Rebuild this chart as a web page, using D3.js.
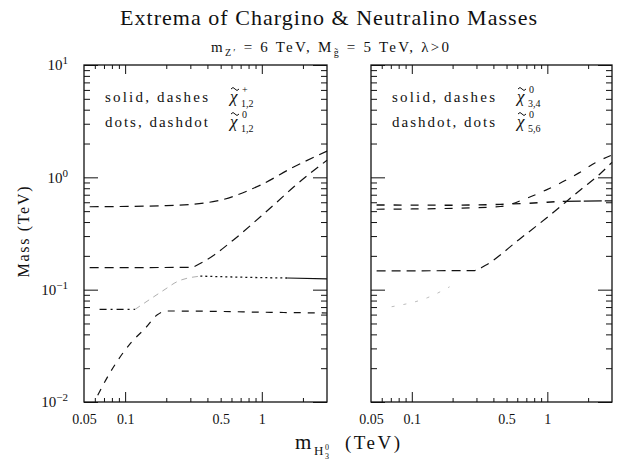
<!DOCTYPE html>
<html>
<head>
<meta charset="utf-8">
<script src="https://cdn.jsdelivr.net/npm/d3@7"></script>
<style>
  body { margin: 0; background: #fff; }
  text { font-family: "Liberation Serif", "DejaVu Serif", serif; fill: #111; }
</style>
</head>
<body>
<div id="chart"></div>
<script>
// tick values and labels
var xLabelValues = [0.05, 0.1, 0.5, 1];
var xLabelText = ["0.05", "0.1", "0.5", "1"];
var xMajor = [0.1, 1];
var xMinor = [0.06, 0.07, 0.08, 0.09, 0.2, 0.3, 0.4, 0.5, 0.6, 0.7, 0.8, 0.9, 2];
var yMajor = [0.01, 0.1, 1, 10];
var yExponent = ["\u22122", "\u22121", "0", "1"];
var yMinor = [0.02, 0.03, 0.04, 0.05, 0.06, 0.07, 0.08, 0.09,
              0.2, 0.3, 0.4, 0.5, 0.6, 0.7, 0.8, 0.9,
              2, 3, 4, 5, 6, 7, 8, 9];

// left panel: charginos and light neutralinos, [mH (TeV), mass (TeV)]
var charginoUpper = [[0.055, 0.547], [0.2, 0.56], [0.44, 0.607], [0.977, 0.853], [1.71, 1.236], [3, 1.71]];
var charginoLower = [[0.055, 0.157], [0.3, 0.158], [0.373, 0.177], [0.62, 0.277], [0.977, 0.446], [1.3, 0.607], [1.71, 0.82], [3, 1.42]];
var neutralinoFlatLeft = [[0.065, 0.0667], [0.118, 0.0667]];
var neutralinoRiseFaint = [[0.118, 0.0667], [0.196, 0.1007], [0.239, 0.1175], [0.355, 0.132]];
var neutralinoDots = [[0.355, 0.132], [1.0, 0.128], [1.53, 0.127]];
var neutralinoSolidEnd = [[1.53, 0.127], [3, 0.125]];
var neutralinoSteep = [[0.063, 0.0115], [0.077, 0.018], [0.112, 0.0344], [0.14, 0.0452], [0.171, 0.0594], [0.2, 0.0646], [0.5, 0.064], [1, 0.063], [3, 0.062]];

// right panel: heavy neutralinos
var neutralino34Rise = [[0.055, 0.147], [0.29, 0.148], [0.35, 0.165], [0.62, 0.28], [0.975, 0.43], [1.77, 0.78], [2.4, 1.05], [3, 1.36]];
var neutralinoFlatUpper = [[0.055, 0.567], [0.2, 0.565], [0.45, 0.575], [1, 0.6], [1.3, 0.612]];
var neutralinoFlatUpperEnd = [[1.3, 0.612], [3, 0.617]];
var neutralinoFlatLower = [[0.055, 0.52], [0.2, 0.53], [0.45, 0.55], [0.7, 0.65], [0.975, 0.77], [1.7, 1.09], [2.26, 1.35], [3, 1.58]];
var neutralino56Faint = [[0.071, 0.0705], [0.131, 0.085], [0.19, 0.106]];

var w = 618, h = 462;
var top_ = 65, bottom = 402;

var svg = d3.select("#chart").append("svg")
  .attr("width", w)
  .attr("height", h);

var yScale = d3.scaleLog().domain([0.01, 10]).range([bottom, top_]);

var leftCurves = [
  { d: charginoUpper, dash: "9,6", color: "#111", sw: 1.2 },
  { d: charginoLower, dash: "9,6", color: "#111", sw: 1.2 },
  { d: neutralinoFlatLeft, dash: "7,4,2,4", color: "#111", sw: 1.2 },
  { d: neutralinoRiseFaint, dash: "6,5", color: "#999", sw: 0.8 },
  { d: neutralinoDots, dash: "2,3", color: "#111", sw: 1.3 },
  { d: neutralinoSolidEnd, dash: "none", color: "#111", sw: 1.2 },
  { d: neutralinoSteep, dash: "7,7", color: "#111", sw: 1.2 }
];
var rightCurves = [
  { d: neutralino34Rise, dash: "9,6", color: "#111", sw: 1.2 },
  { d: neutralinoFlatUpper, dash: "8,9", color: "#111", sw: 1.4 },
  { d: neutralinoFlatUpperEnd, dash: "18,3", color: "#111", sw: 1.3 },
  { d: neutralinoFlatLower, dash: "8,9", color: "#111", sw: 1.2 },
  { d: neutralino56Faint, dash: "3,9", color: "#aaa", sw: 0.8 }
];

function drawPanel(x0, x1, curves, showY, legend) {
  var xScale = d3.scaleLog().domain([0.05, 3]).range([x0, x1]);
  var g = svg.append("g").attr("color", "#111");

  function tickOnly(axis, tx, ty) {
    g.append("g")
      .attr("transform", "translate(" + tx + "," + ty + ")")
      .call(axis.tickFormat(function () { return ""; }))
      .call(function (s) { s.select(".domain").remove(); s.selectAll("line").attr("stroke-width", 1); });
  }

  // ticks on all four sides, pointing inward
  tickOnly(d3.axisBottom(xScale).tickValues(xMajor).tickSize(-10), 0, bottom);
  tickOnly(d3.axisBottom(xScale).tickValues(xMinor).tickSize(-4), 0, bottom);
  tickOnly(d3.axisTop(xScale).tickValues(xMajor).tickSize(-9), 0, top_);
  tickOnly(d3.axisTop(xScale).tickValues(xMinor).tickSize(-4), 0, top_);
  tickOnly(d3.axisLeft(yScale).tickValues(yMajor).tickSize(-14), x0, 0);
  tickOnly(d3.axisLeft(yScale).tickValues(yMinor).tickSize(-6), x0, 0);
  tickOnly(d3.axisRight(yScale).tickValues(yMajor).tickSize(-14), x1, 0);
  tickOnly(d3.axisRight(yScale).tickValues(yMinor).tickSize(-6), x1, 0);

  // x labels
  g.append("g")
    .attr("transform", "translate(0," + bottom + ")")
    .call(d3.axisBottom(xScale).tickValues(xLabelValues).tickSize(0).tickPadding(12)
      .tickFormat(function (d, i) { return xLabelText[i]; }))
    .call(function (s) {
      s.select(".domain").remove();
      s.selectAll("text").style("font-size", "14px").style("font-family", "Liberation Serif").attr("fill", "#111");
    });

  if (showY) {
    g.append("g")
      .attr("transform", "translate(" + x0 + ",0)")
      .call(d3.axisLeft(yScale).tickValues(yMajor).tickSize(0).tickPadding(16).tickFormat(function () { return "10"; }))
      .call(function (s) {
        s.select(".domain").remove();
        s.selectAll("text")
          .style("font-size", "15px").style("font-family", "Liberation Serif").attr("fill", "#111")
          .append("tspan")
          .attr("dy", "-0.55em")
          .style("font-size", "11px")
          .text(function (d) { return yExponent[yMajor.indexOf(d)]; });
      });
  }

  // frame
  g.append("rect")
    .attr("x", x0).attr("y", top_)
    .attr("width", x1 - x0).attr("height", bottom - top_)
    .style("fill", "none").style("stroke", "#111").style("stroke-width", 1.3);

  var line = d3.line()
    .x(function (d) { return xScale(d[0]); })
    .y(function (d) { return yScale(d[1]); })
    .curve(d3.curveMonotoneX);

  g.selectAll(".curve")
    .data(curves)
    .enter()
    .append("path")
    .attr("class", "curve")
    .attr("d", function (c) { return line(c.d); })
    .style("fill", "none")
    .style("stroke", function (c) { return c.color; })
    .style("stroke-width", function (c) { return c.sw; })
    .style("stroke-dasharray", function (c) { return c.dash; });

  // legend: label, then chi with a drawn tilde, superscript and subscript
  legend.forEach(function (row, i) {
    var y = 102 + i * 25;
    g.append("text")
      .attr("x", x0 + 21).attr("y", y)
      .attr("textLength", 103).attr("lengthAdjust", "spacing")
      .style("font-size", "15px")
      .text(row.label);
    var cx = x0 + 146;
    g.append("text").attr("x", cx).attr("y", y)
      .style("font-size", "17px").style("font-style", "italic").text("\u03c7");
    g.append("path")
      .attr("d", "M" + (cx + 1) + "," + (y - 13) + " q2,-3 4,0 t4,0")
      .style("fill", "none").style("stroke", "#111").style("stroke-width", 1);
    g.append("text").attr("x", cx + 12).attr("y", y - 9).style("font-size", "10px").text(row.sup);
    g.append("text").attr("x", cx + 11).attr("y", y + 5).style("font-size", "10px").text(row.sub);
  });
}

drawPanel(84, 327, leftCurves, true, [
  { label: "solid, dashes", sub: "1,2", sup: "+" },
  { label: "dots, dashdot", sub: "1,2", sup: "0" }
]);
drawPanel(371, 612, rightCurves, false, [
  { label: "solid, dashes", sub: "3,4", sup: "0" },
  { label: "dashdot, dots", sub: "5,6", sup: "0" }
]);

// title
svg.append("text")
  .attr("x", 120).attr("y", 25)
  .attr("textLength", 417).attr("lengthAdjust", "spacing")
  .style("font-size", "22px")
  .text("Extrema of Chargino & Neutralino Masses");

// subtitle
var sub = svg.append("text")
  .attr("x", 211).attr("y", 52)
  .attr("textLength", 238).attr("lengthAdjust", "spacing")
  .style("font-size", "15px");
sub.append("tspan").text("m");
sub.append("tspan").attr("dy", 4).style("font-size", "10px").text("Z\u2032");
sub.append("tspan").attr("dy", -4).text(" = 6 TeV, M");
sub.append("tspan").attr("dy", 4).style("font-size", "10px").text("g\u0303");
sub.append("tspan").attr("dy", -4).text(" = 5 TeV, \u03bb>0");

// axis titles
svg.append("text")
  .attr("transform", "translate(29,232) rotate(-90)")
  .attr("text-anchor", "middle")
  .attr("textLength", 91).attr("lengthAdjust", "spacing")
  .style("font-size", "16px")
  .text("Mass (TeV)");

svg.append("text").attr("x", 295).attr("y", 449).style("font-size", "21px").text("m");
svg.append("text").attr("x", 314).attr("y", 455).style("font-size", "13px").text("H");
svg.append("text").attr("x", 325).attr("y", 459).style("font-size", "8px").text("3");
svg.append("text").attr("x", 325).attr("y", 450).style("font-size", "8px").text("0");
svg.append("text").attr("x", 345).attr("y", 449)
  .attr("textLength", 55).attr("lengthAdjust", "spacing")
  .style("font-size", "19px").text("(TeV)");
</script>
</body>
</html>
